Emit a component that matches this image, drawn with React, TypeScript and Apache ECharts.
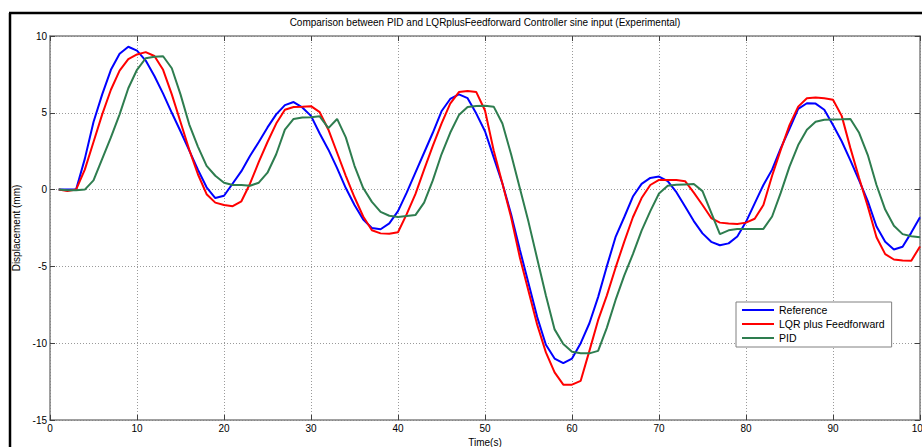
import React, { useEffect, useRef } from "react";
import * as echarts from "echarts";

const titleText = "Comparison between PID and LQRplusFeedforward Controller sine input (Experimental)";
const xAxisName = "Time(s)";
const yAxisName = "Displacement (mm)";
const seriesNames = ["Reference", "LQR plus Feedforward", "PID"];

const time = [
  1, 2, 3, 4, 5, 6, 7, 8, 9, 10,
  11, 12, 13, 14, 15, 16, 17, 18, 19, 20,
  21, 22, 23, 24, 25, 26, 27, 28, 29, 30,
  31, 32, 33, 34, 35, 36, 37, 38, 39, 40,
  41, 42, 43, 44, 45, 46, 47, 48, 49, 50,
  51, 52, 53, 54, 55, 56, 57, 58, 59, 60,
  61, 62, 63, 64, 65, 66, 67, 68, 69, 70,
  71, 72, 73, 74, 75, 76, 77, 78, 79, 80,
  81, 82, 83, 84, 85, 86, 87, 88, 89, 90,
  91, 92, 93, 94, 95, 96, 97, 98, 99, 100,
];

const reference = [
  0, 0, 0, 2.0, 4.4, 6.2, 7.8, 8.85, 9.3, 9.05,
  8.4, 7.4, 6.25, 5.0, 3.8, 2.55, 1.3, 0.15, -0.55, -0.4,
  0.4, 1.2, 2.2, 3.1, 4.05, 4.9, 5.5, 5.7, 5.35, 4.8,
  3.65, 2.6, 1.4, 0.1, -1.0, -1.95, -2.5, -2.58, -2.2, -1.4,
  -0.2, 1.1, 2.4, 3.7, 5.1, 5.9, 6.2, 5.95, 4.95, 3.8,
  2.1, 0.4, -1.6, -3.9, -6.1, -8.3, -10.1, -11.0, -11.3, -11.0,
  -10.0, -8.7, -7.0, -5.0, -3.1, -1.8, -0.45, 0.37, 0.76, 0.85,
  0.55, -0.17, -1.1, -2.05, -2.85, -3.4, -3.62, -3.5, -3.05, -2.1,
  -0.9, 0.3, 1.3, 2.7, 3.95, 5.25, 5.62, 5.6, 5.2, 4.2,
  3.15, 1.9, 0.6, -0.75, -2.4, -3.4, -3.9, -3.72, -2.8, -1.8,
];

const lqrFeedforward = [
  0, -0.1, 0, 1.3, 3.1, 4.9, 6.5, 7.75, 8.5, 8.8,
  8.95, 8.7, 7.8, 6.2, 4.4, 2.6, 1.0, -0.3, -0.85, -1.0,
  -1.08, -0.76, 0.4, 1.8, 3.1, 4.3, 5.2, 5.38, 5.4, 5.43,
  5.04, 3.9, 2.4, 0.9, -0.5, -1.75, -2.65, -2.85, -2.88, -2.78,
  -1.6, -0.3, 1.3, 2.85, 4.3, 5.6, 6.35, 6.42, 6.35, 5.15,
  2.55, 0.4, -1.8, -4.4, -6.6, -8.8, -10.6, -11.9, -12.7, -12.7,
  -12.45, -10.5, -8.5, -6.9, -5.1, -3.4, -1.8, -0.55, 0.3, 0.63,
  0.63, 0.62, 0.55, -0.2, -1.0, -1.85, -2.15, -2.2, -2.24, -2.15,
  -1.9, -1.0, 0.9, 2.6, 4.2, 5.4, 5.95, 6.0, 5.95, 5.85,
  4.8, 2.7, 0.75, -1.1, -3.1, -4.2, -4.55, -4.62, -4.63, -3.7,
];

const pid = [
  0, -0.05, -0.05, 0, 0.6, 2.0, 3.4, 4.9, 6.6, 7.8,
  8.55, 8.65, 8.68, 7.9, 6.2, 4.25, 2.8, 1.55, 0.9, 0.45,
  0.3, 0.3, 0.25, 0.45, 1.1, 2.3, 3.9, 4.6, 4.7, 4.71,
  4.77, 4.0, 4.6, 3.4, 1.55, 0.1, -0.8, -1.45, -1.7, -1.78,
  -1.72, -1.66, -0.85, 0.6, 2.3, 3.7, 4.85, 5.38, 5.45, 5.46,
  5.4, 4.3, 2.3, 0.1, -2.1, -4.5, -6.9, -9.1, -10.05, -10.55,
  -10.65, -10.66, -10.5, -9.0, -7.2, -5.6, -4.2, -2.67, -1.4, -0.25,
  0.25, 0.32, 0.34, 0.36, -0.1, -1.5, -2.9, -2.65, -2.57, -2.56,
  -2.56, -2.56, -1.75, -0.2, 1.5, 2.9, 3.9, 4.42, 4.55, 4.57,
  4.58, 4.6, 3.7, 2.25, 0.3, -1.3, -2.35, -2.9, -3.04, -3.1,
];

const seriesColors = ["#0000ff", "#ff0000", "#2e7d4f"];

export default function App() {
  const ref = useRef<HTMLDivElement | null>(null);

  useEffect(() => {
    if (!ref.current) return;
    const chart = echarts.init(ref.current, undefined, { renderer: "svg" });
    const font = "'Liberation Sans', Arial, sans-serif";
    const valuesList = [reference, lqrFeedforward, pid];
    const axisLineColor = "#808080";
    const tickColor = "#404040";
    const gridStyle = { color: "#9a9a9a", width: 1, type: [1, 2] as any };

    chart.setOption({
      animation: false,
      backgroundColor: "#ffffff",
      title: {
        text: titleText,
        left: 485,
        top: 17,
        textAlign: "center",
        padding: 0,
        textStyle: { fontFamily: font, fontSize: 10, fontWeight: "normal", color: "#000" },
      },
      grid: { left: 50, right: 2, top: 36, bottom: 27, containLabel: false, outerBoundsMode: "none" },
      legend: {
        orient: "vertical",
        left: 736,
        top: 302,
        padding: [1, 7, 2, 6],
        itemGap: 0,
        itemWidth: 32,
        itemHeight: 2,
        icon: "rect",
        backgroundColor: "#ffffff",
        borderColor: "#808080",
        borderWidth: 1,
        borderRadius: 0,
        textStyle: { fontFamily: font, fontSize: 10.5, color: "#000", lineHeight: 14 },
        data: seriesNames,
      },
      xAxis: [
        {
          type: "value",
          position: "bottom",
          min: 0,
          max: 100,
          interval: 10,
          name: xAxisName,
          nameLocation: "middle",
          nameGap: 15,
          nameTextStyle: { fontFamily: font, fontSize: 10, color: "#000" },
          axisLine: { show: true, onZero: false, lineStyle: { color: axisLineColor, width: 1.5 } },
          axisTick: { show: true, inside: true, length: 5, lineStyle: { color: tickColor } },
          axisLabel: { fontFamily: font, fontSize: 10, color: "#000", margin: 3, hideOverlap: false },
          splitLine: { show: true, lineStyle: gridStyle },
        },
        {
          type: "value",
          position: "top",
          min: 0,
          max: 100,
          interval: 10,
          axisLine: { show: true, onZero: false, lineStyle: { color: axisLineColor, width: 1.5 } },
          axisTick: { show: true, inside: true, length: 5, lineStyle: { color: tickColor } },
          axisLabel: { show: false },
          splitLine: { show: false },
        },
      ],
      yAxis: [
        {
          type: "value",
          position: "left",
          min: -15,
          max: 10,
          interval: 5,
          name: yAxisName,
          nameLocation: "middle",
          nameGap: 16,
          nameTextStyle: { fontFamily: font, fontSize: 10, color: "#000" },
          axisLine: { show: true, onZero: false, lineStyle: { color: axisLineColor, width: 1.5 } },
          axisTick: { show: true, inside: true, length: 5, lineStyle: { color: tickColor } },
          axisLabel: { fontFamily: font, fontSize: 10, color: "#000", margin: 3 },
          splitLine: { show: true, lineStyle: gridStyle },
        },
        {
          type: "value",
          position: "right",
          min: -15,
          max: 10,
          interval: 5,
          axisLine: { show: true, onZero: false, lineStyle: { color: axisLineColor, width: 1.5 } },
          axisTick: { show: true, inside: true, length: 5, lineStyle: { color: tickColor } },
          axisLabel: { show: false },
          splitLine: { show: false },
        },
      ],
      series: seriesNames.map((name, k) => ({
        name,
        type: "line",
        xAxisIndex: 0,
        yAxisIndex: 0,
        showSymbol: false,
        symbol: "none",
        smooth: false,
        color: seriesColors[k],
        lineStyle: { color: seriesColors[k], width: 2 },
        data: time.map((t, i) => [t, valuesList[k][i]]),
      })),
      graphic: [
        {
          type: "line",
          shape: { x1: 10, y1: 13, x2: 10, y2: 447 },
          style: { stroke: "#000", lineWidth: 2.5 },
          silent: true,
        },
        {
          type: "line",
          shape: { x1: 9, y1: 13, x2: 922, y2: 13 },
          style: { stroke: "#000", lineWidth: 2.5 },
          silent: true,
        },
      ],
    });

    return () => {
      chart.dispose();
    };
  }, []);

  return (
    <div
      ref={ref}
      style={{ position: "fixed", left: 0, top: 0, width: 922, height: 447, background: "#fff" }}
    />
  );
}
